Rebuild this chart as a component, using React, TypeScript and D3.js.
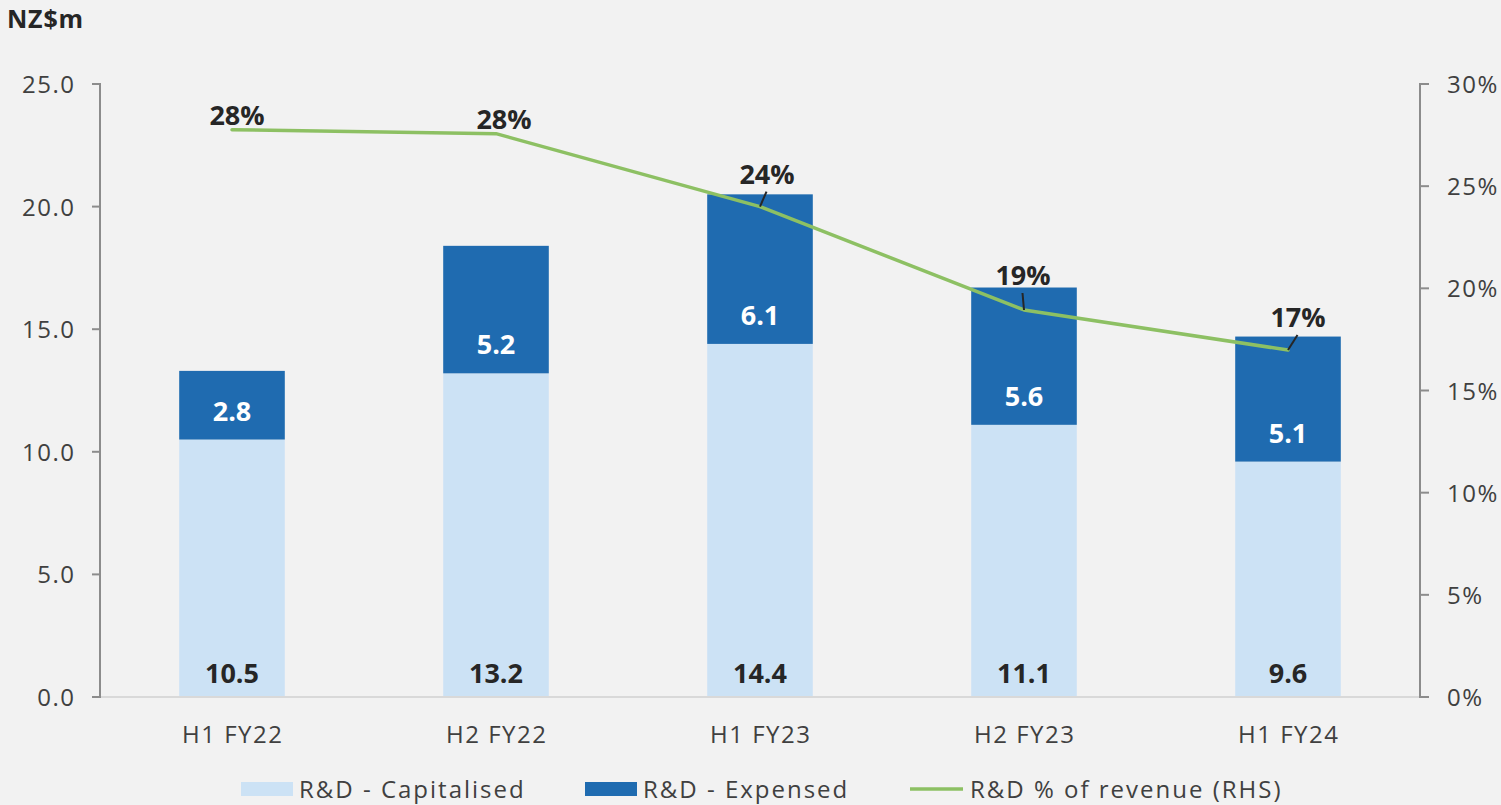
import React, { useEffect } from "react";
import * as d3 from "d3";

const categories = ["H1 FY22", "H2 FY22", "H1 FY23", "H2 FY23", "H1 FY24"];
const capitalised = [10.5, 13.2, 14.4, 11.1, 9.6];
const expensed = [2.8, 5.2, 6.1, 5.6, 5.1];
const pctRevenue = [0.2776, 0.2757, 0.24, 0.1894, 0.1698];
const pctLabels = ["28%", "28%", "24%", "19%", "17%"];
const leftTicks = [0, 5, 10, 15, 20, 25];
const rightTicks = [0, 0.05, 0.1, 0.15, 0.2, 0.25, 0.3];
const legendItems = ["R&D - Capitalised", "R&D - Expensed", "R&D % of revenue (RHS)"];

// layout constants (label offsets from the line points; leader flag)
const labelOffsets = [
  { dx: 5, dy: -5, leader: false },
  { dx: 8, dy: -5, leader: false },
  { dx: 7, dy: -23, leader: true },
  { dx: -1, dy: -25, leader: true },
  { dx: 10, dy: -23, leader: true },
];

const W = 1501;
const H = 805;
const FONT = "'Open Sans', 'DejaVu Sans', sans-serif";
const C_BG = "#f2f2f2";
const C_LIGHT = "#cce2f5";
const C_DARK = "#1f6bb0";
const C_GREEN = "#8dc063";
const C_TEXT = "#404040";
const C_BOLD = "#262626";
const C_AXIS = "#8c8c8c";
const LS = 1.5;

export default function App() {
  useEffect(() => {
    document.body.style.margin = "0";
    document.body.style.background = C_BG;
  }, []);

  const left = 100, right = 1420, top = 84, bottom = 697;
  const x = d3.scaleBand<string>().domain(categories).range([left, right]).paddingInner(0.6).paddingOuter(0.3);
  const yL = d3.scaleLinear().domain([0, 25]).range([bottom, top]);
  const yR = d3.scaleLinear().domain([0, 0.3]).range([bottom, top]);
  const cx = (c: string) => (x(c) as number) + x.bandwidth() / 2;

  const line = d3
    .line<number>()
    .x((_, i) => cx(categories[i]))
    .y((d) => yR(d));

  const fmtL = d3.format(".1f");
  const fmtR = d3.format(".0%");

  return (
    <svg width={W} height={H} style={{ display: "block", background: C_BG, fontFamily: FONT }}>
      <rect x={0} y={0} width={W} height={H} fill={C_BG} />
      <text x={7} y={28} fontSize={25} fontWeight={700} fill={C_BOLD} letterSpacing={0.8}>NZ$m</text>

      {/* bars */}
      {categories.map((c, i) => {
        const x0 = x(c) as number;
        const bw = x.bandwidth();
        const yCapTop = yL(capitalised[i]);
        const yExpTop = yL(capitalised[i] + expensed[i]);
        return (
          <g key={c}>
            <rect x={x0} y={yCapTop} width={bw} height={yL(0) - yCapTop} fill={C_LIGHT} />
            <rect x={x0} y={yExpTop} width={bw} height={yCapTop - yExpTop} fill={C_DARK} />
            <text x={cx(c)} y={yCapTop - 19} textAnchor="middle" fontSize={27} fontWeight={700} fill="#ffffff">
              {fmtL(expensed[i])}
            </text>
            <text x={cx(c)} y={yL(0) - 14} textAnchor="middle" fontSize={27} fontWeight={700} fill={C_BOLD}>
              {fmtL(capitalised[i])}
            </text>
          </g>
        );
      })}

      {/* baseline */}
      <line x1={left} x2={right} y1={yL(0)} y2={yL(0)} stroke="#d9d9d9" strokeWidth={2} />

      {/* left axis */}
      <line x1={left} x2={left} y1={yL(0) + 1} y2={yL(25) - 1} stroke={C_AXIS} strokeWidth={2} />
      {leftTicks.map((t) => (
        <g key={"l" + t}>
          <line x1={left - 8} x2={left} y1={yL(t)} y2={yL(t)} stroke={C_AXIS} strokeWidth={2} />
          <text x={75.5} y={yL(t) + 9} textAnchor="end" fontSize={24} fill={C_TEXT} letterSpacing={LS}>{fmtL(t)}</text>
        </g>
      ))}

      {/* right axis */}
      <line x1={right} x2={right} y1={yR(0) + 1} y2={yR(0.3) - 1} stroke={C_AXIS} strokeWidth={2} />
      {rightTicks.map((t) => (
        <g key={"r" + t}>
          <line x1={right} x2={right + 9} y1={yR(t)} y2={yR(t)} stroke={C_AXIS} strokeWidth={2} />
          <text x={1447} y={yR(t) + 9} textAnchor="start" fontSize={24} fill={C_TEXT} letterSpacing={LS}>{fmtR(t)}</text>
        </g>
      ))}

      {/* category labels */}
      {categories.map((c) => (
        <text key={"c" + c} x={cx(c) + LS / 2} y={743} textAnchor="middle" fontSize={24} fill={C_TEXT} letterSpacing={LS}>{c}</text>
      ))}

      {/* line */}
      <path d={line(pctRevenue) || ""} fill="none" stroke={C_GREEN} strokeWidth={3.5} strokeLinejoin="round" strokeLinecap="round" />

      {/* line labels */}
      {pctRevenue.map((v, i) => {
        const px = cx(categories[i]);
        const py = yR(v);
        const o = labelOffsets[i];
        const lx = px + o.dx;
        const ly = py + o.dy;
        return (
          <g key={"p" + i}>
            {o.leader && (
              <line x1={lx - 0.5} y1={ly + 8} x2={px} y2={py} stroke={C_BOLD} strokeWidth={2} />
            )}
            <text x={lx} y={ly} textAnchor="middle" fontSize={27} fontWeight={700} fill={C_BOLD}>
              {pctLabels[i]}
            </text>
          </g>
        );
      })}

      {/* legend */}
      <g>
        <rect x={241} y={782} width={52} height={14} fill={C_LIGHT} />
        <text x={299} y={798} fontSize={24} fill={C_TEXT} letterSpacing={2}>{legendItems[0]}</text>
        <rect x={585} y={782} width={52} height={14} fill={C_DARK} />
        <text x={643} y={798} fontSize={24} fill={C_TEXT} letterSpacing={2}>{legendItems[1]}</text>
        <line x1={910} x2={963} y1={789} y2={789} stroke={C_GREEN} strokeWidth={3.5} />
        <text x={970} y={798} fontSize={24} fill={C_TEXT} letterSpacing={2}>{legendItems[2]}</text>
      </g>
    </svg>
  );
}
